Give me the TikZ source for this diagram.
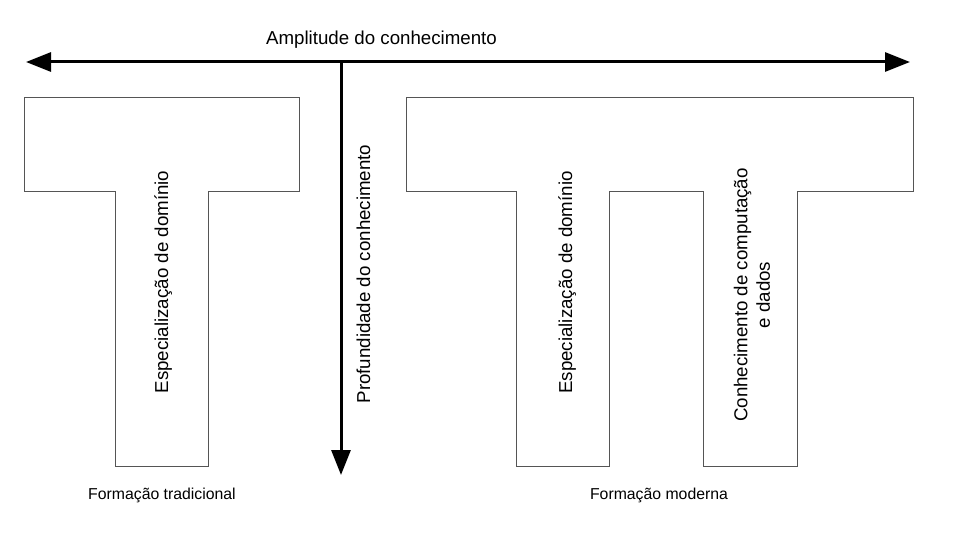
\documentclass[tikz,border=0pt]{standalone}
\usepackage{fontspec}
\setmainfont{Liberation Sans}
\usetikzlibrary{arrows.meta}
\definecolor{shapegray}{HTML}{555555}
\begin{document}
\begin{tikzpicture}[x=1pt,y=-1pt,
  shapeline/.style={draw=shapegray,line width=1pt,line join=miter},
  axisarrow/.style={draw=black,line width=3pt,-{Triangle[length=25pt,width=19pt]}},
  biglabel/.style={font=\fontsize{18.7}{22.4}\selectfont,inner sep=0pt},
  smalllabel/.style={font=\fontsize{15.8}{19}\selectfont,inner sep=0pt}]
\useasboundingbox (0,0) rectangle (960,540);
% axes
\coordinate (hl) at (26,62);
\coordinate (hr) at (910,62);
\coordinate (vt) at (341,62);
\coordinate (vb) at (341,475);
\draw[axisarrow,{Triangle[length=25pt,width=19pt]}-{Triangle[length=25pt,width=19pt]}] (hl) -- (hr);
\draw[axisarrow] (vt) -- (vb);
% traditional T
\draw[shapeline] (24,98) -- (299,98) -- (299,191) -- (208,191) -- (208,466)
  -- (115,466) -- (115,191) -- (24,191) -- cycle;
% modern Pi
\draw[shapeline] (406,98) -- (913,98) -- (913,191) -- (797,191) -- (797,466)
  -- (703,466) -- (703,191) -- (609,191) -- (609,466) -- (516,466)
  -- (516,191) -- (406,191) -- cycle;
% labels
\node[biglabel,anchor=base] (amp) at (381.5,45) {Amplitude do conhecimento};
\node[biglabel,rotate=90,anchor=base] (prof) at (370,274) {Profundidade do conhecimento};
\node[biglabel,rotate=90,anchor=base] (espL) at (168,282) {Especialização de domínio};
\node[biglabel,rotate=90,anchor=base] (espR) at (572,282.5) {Especialização de domínio};
\node[biglabel,rotate=90,align=center] (comp) at (752,295) {Conhecimento de computação\\e dados};
\node[smalllabel,anchor=base] (trad) at (162,499) {Formação tradicional};
\node[smalllabel,anchor=base] (mod) at (659,499) {Formação moderna};
\end{tikzpicture}
\end{document}
